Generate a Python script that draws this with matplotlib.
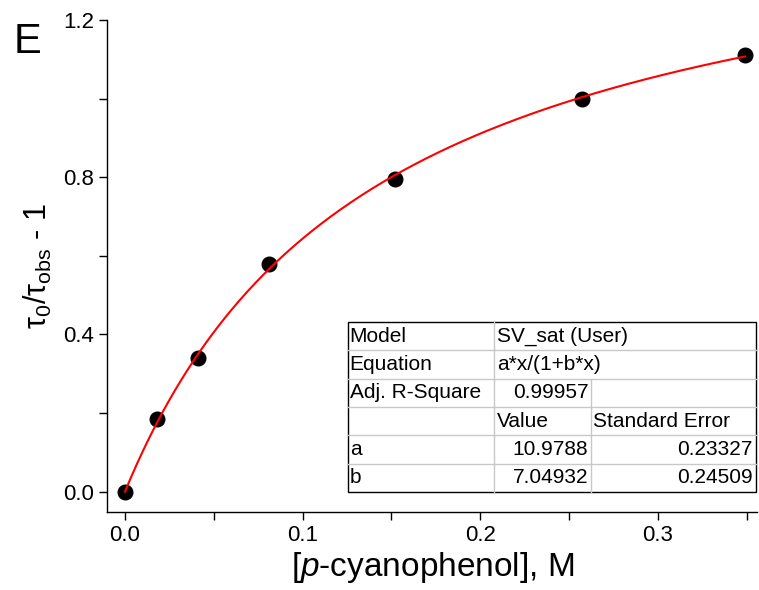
import numpy as np
import matplotlib.pyplot as plt
from matplotlib.ticker import MultipleLocator, FormatStrFormatter

# measured points
conc = [0.0, 0.018, 0.041, 0.081, 0.152, 0.257, 0.349]
ratio = [0.0, 0.185, 0.34, 0.58, 0.795, 1.0, 1.11]

# fit parameters (SV_sat model)
fit_a = 10.9788
fit_b = 7.04932

# fit report table rows
table_rows = [
    ["Model", "SV_sat (User)", None],
    ["Equation", "a*x/(1+b*x)", None],
    ["Adj. R-Square", "0.99957", ""],
    ["", "Value", "Standard Error"],
    ["a", "10.9788", "0.23327"],
    ["b", "7.04932", "0.24509"],
]

plt.rcParams["font.family"] = ["Liberation Sans", "DejaVu Sans"]
plt.rcParams["mathtext.fontset"] = "custom"
plt.rcParams["mathtext.rm"] = "Liberation Sans"
plt.rcParams["mathtext.it"] = "Liberation Sans:italic"

fig = plt.figure(figsize=(7.59, 5.90), dpi=100)
ax = fig.add_axes([0.141, 0.132, 0.857, 0.834])

xs = np.linspace(0, max(conc), 300)
ax.plot(xs, fit_a * xs / (1 + fit_b * xs), color="red", lw=1.5, zorder=3)
ax.plot(conc, ratio, "o", color="black", ms=10.5, zorder=2)

ax.set_xlim(-0.0101, 0.356)
ax.set_ylim(-0.052, 1.2)
ax.xaxis.set_major_locator(MultipleLocator(0.1))
ax.xaxis.set_minor_locator(MultipleLocator(0.05))
ax.yaxis.set_major_locator(MultipleLocator(0.4))
ax.yaxis.set_minor_locator(MultipleLocator(0.2))
ax.xaxis.set_major_formatter(FormatStrFormatter("%.1f"))
ax.yaxis.set_major_formatter(FormatStrFormatter("%.1f"))
ax.tick_params(which="both", direction="out", width=1, labelsize=16)
ax.tick_params(which="major", length=6)
ax.tick_params(which="minor", length=6)
for s in ["top", "right"]:
    ax.spines[s].set_visible(False)
for s in ["left", "bottom"]:
    ax.spines[s].set_linewidth(1)

ax.set_xlabel("[$\\it{p}$-cyanophenol], M", fontsize=24, labelpad=3)
ax.set_ylabel("τ$_0$/τ$_{\\mathrm{obs}}$ - 1", fontsize=22, labelpad=6)
fig.text(0.018, 0.91, "E", fontsize=30)

# fit report table (axes fraction)
cols = [0.370, 0.595, 0.744, 0.997]
top, bot = 0.386, 0.041
nrow = len(table_rows)
rh = (top - bot) / nrow
kw = dict(transform=ax.transAxes, clip_on=False, zorder=5)
ax.add_patch(plt.Rectangle((cols[0], bot), cols[3] - cols[0], top - bot,
                           facecolor="white", edgecolor="black", lw=1, **kw))
for i, row in enumerate(table_rows):
    y0 = top - (i + 1) * rh
    yc = y0 + rh / 2
    if i > 0:
        ax.plot([cols[0], cols[3]], [top - i * rh] * 2, color="#c8c8c8", lw=1, **kw)
    ax.plot([cols[1]] * 2, [y0, y0 + rh], color="#c8c8c8", lw=1, **kw)
    if row[2] is not None:
        ax.plot([cols[2]] * 2, [y0, y0 + rh], color="#c8c8c8", lw=1, **kw)
    tk = dict(transform=ax.transAxes, va="center", fontsize=15, zorder=6)
    ax.text(cols[0] + 0.003, yc, row[0], ha="left", **tk)
    numeric = i in (2, 4, 5)
    if numeric:
        ax.text(cols[2] - 0.004, yc, row[1], ha="right", **tk)
        ax.text(cols[3] - 0.004, yc, row[2], ha="right", **tk)
    else:
        ax.text(cols[1] + 0.004, yc, row[1], ha="left", **tk)
        if row[2]:
            ax.text(cols[2] + 0.003, yc, row[2], ha="left", **tk)

fig.savefig("out.png", dpi=100)
